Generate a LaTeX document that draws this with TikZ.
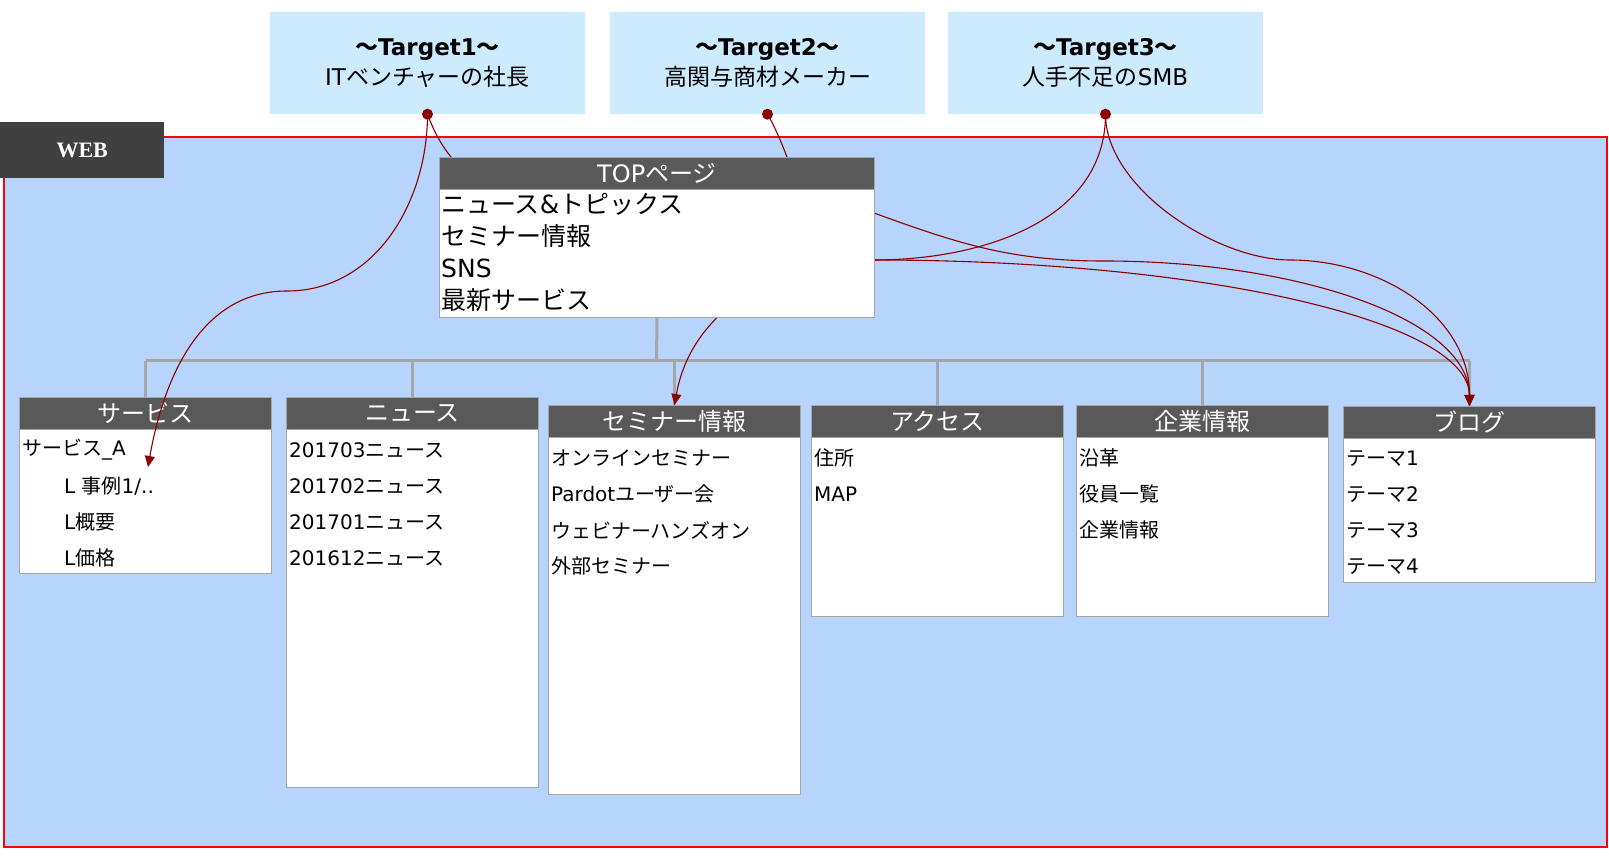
\documentclass[tikz,border=0pt]{standalone}
\usepackage{fontspec}
\setmainfont{DejaVu Sans}
\newfontfamily\jpfont{Noto Sans CJK JP}
\newfontfamily\webfont{Liberation Serif}
\usetikzlibrary{arrows.meta,positioning}

% Japanese characters switch to the CJK font
\newXeTeXintercharclass\jpclass
\count255="3000
\loop
  \XeTeXcharclass\count255=\jpclass
  \advance\count255 by 1
\ifnum\count255<"A000 \repeat
\count255="FF00
\loop
  \XeTeXcharclass\count255=\jpclass
  \advance\count255 by 1
\ifnum\count255<"FFF0 \repeat
\XeTeXinterchartoks 0 \jpclass = {\begingroup\jpfont}
\XeTeXinterchartoks 4095 \jpclass = {\begingroup\jpfont}
\XeTeXinterchartoks \jpclass 0 = {\endgroup}
\XeTeXinterchartoks \jpclass 4095 = {\endgroup}
\XeTeXinterchartokenstate=1

\definecolor{webblue}{RGB}{183,212,252}
\definecolor{targetblue}{RGB}{204,235,255}
\definecolor{headgray}{RGB}{89,89,89}
\definecolor{labelgray}{RGB}{64,64,64}
\definecolor{treegray}{RGB}{166,166,166}
\definecolor{linkred}{RGB}{139,0,0}

\pgfdeclarelayer{front}
\pgfsetlayers{main,front}

\tikzset{
  target/.style={fill=targetblue, minimum width=315pt, minimum height=102pt,
    inner sep=0pt, align=center, font=\fontsize{23}{30}\selectfont},
  pagehead/.style={fill=headgray, draw=treegray, line width=1pt, text=white,
    minimum width=252pt, minimum height=32pt, inner sep=0pt, anchor=north west,
    font=\fontsize{24}{24}\selectfont},
  pagebody/.style={fill=white, draw=treegray, line width=1pt,
    minimum width=252pt, inner sep=0pt, anchor=north west},
  pageitem/.style={anchor=west, inner sep=0pt, font=\fontsize{20}{20}\selectfont},
  tree/.style={treegray, line width=3pt},
  link/.style={linkred, line width=1.1pt},
  tip/.style={-{Triangle[length=11pt,width=10pt]}},
}

% page box: name, x, y, height, title
\newcommand{\sitepage}[5]{%
  \node[pagebody, minimum height=#4pt] (#1) at (#2,#3) {};
  \node[pagehead] (#1-head) at (#1.north west) {#5};
}

\begin{document}
\begin{tikzpicture}[x=1pt, y=1pt]

    \useasboundingbox (0,0) rectangle (1609,-858);

    % Frame
    \draw[red, line width=2.5pt, fill=webblue] (4,-137) rectangle (1607,-847);

    % Child pages
    \sitepage{serv}{19}{-397}{176}{サービス}
    \sitepage{news}{286}{-397}{390}{ニュース}
    \sitepage{semi}{548}{-405}{389}{セミナー情報}
    \sitepage{access}{811}{-405}{211}{アクセス}
    \sitepage{corp}{1076}{-405}{211}{企業情報}
    \sitepage{blog}{1343}{-406}{176}{ブログ}

    \node[pageitem] at ([xshift=3pt, yshift=-53pt]serv.north west) {サービス\_A};
    \foreach \txt [count=\i] in {{L 事例1/..}, L概要, L価格}
      \node[pageitem] at ([xshift=45pt, yshift={-(17+36*(\i+1))}]serv.north west) {\txt};
    \foreach \txt [count=\i] in {201703ニュース, 201702ニュース, 201701ニュース, 201612ニュース}
      \node[pageitem] at ([xshift=3pt, yshift={-(17+36*\i)}]news.north west) {\txt};
    \foreach \txt [count=\i] in {オンラインセミナー, Pardotユーザー会, ウェビナーハンズオン, 外部セミナー}
      \node[pageitem] at ([xshift=3pt, yshift={-(17+36*\i)}]semi.north west) {\txt};
    \foreach \txt [count=\i] in {住所, MAP}
      \node[pageitem] at ([xshift=3pt, yshift={-(17+36*\i)}]access.north west) {\txt};
    \foreach \txt [count=\i] in {沿革, 役員一覧, 企業情報}
      \node[pageitem] at ([xshift=3pt, yshift={-(17+36*\i)}]corp.north west) {\txt};
    \foreach \txt [count=\i] in {テーマ1, テーマ2, テーマ3, テーマ4}
      \node[pageitem] at ([xshift=3pt, yshift={-(17+36*\i)}]blog.north west) {\txt};

    % TOP page (above the links)
    \begin{pgfonlayer}{front}
      \node[pagebody, minimum width=435pt, minimum height=160pt] (top) at (439,-157) {};
      \node[pagehead, minimum width=435pt] (top-head) at (top.north west) {TOPページ};
      \foreach \txt [count=\i] in {ニュース\&トピックス, セミナー情報, SNS, 最新サービス}
        \node[pageitem, font=\fontsize{25}{25}\selectfont]
          at ([xshift=2pt, yshift={-(15+32*\i)}]top.north west) {\txt};
    \end{pgfonlayer}

    % Tree
    \coordinate (bus) at (656.5,-361);
    \draw[tree] (top.south) -- (bus);
    \draw[tree] (serv-head.north |- bus) -- (blog-head.north |- bus);
    \foreach \p in {serv,news,semi,access,corp,blog}
      \draw[tree] (\p-head.north |- bus) -- (\p-head.north);

    % Targets
    \node[target] (t1) at (427.5,-63) {\textbf{～Target1～}\\ITベンチャーの社長};
    \node[target] (t2) at (767.5,-63) {\textbf{～Target2～}\\高関与商材メーカー};
    \node[target] (t3) at (1105.5,-63) {\textbf{～Target3～}\\人手不足のSMB};

    % Links
    \draw[link, tip] (t1.south) to[out=-90,in=0] (287,-291)
      to[out=180,in=80] ([shift={(129pt,-70pt)}]serv.north west);
    \draw[link, tip] (t1.south) to[out=-70,in=160] (874,-213)
      to[out=-20,in=180] (1104,-261) .. controls (1300,-261) and (1469,-320) .. (blog-head.north);
    \draw[link, tip] (t2.south) to[out=-60,in=180] (874,-260)
      .. controls (1200,-260) and (1469,-320) .. (blog-head.north);
    \draw[link, tip] (t3.south) to[out=-90,in=0] (874,-260)
      to[out=180,in=80] (semi-head.north);
    \draw[link, tip] (t3.south) to[out=-90,in=180,looseness=0.8] (1290,-260)
      to[out=0,in=90] (blog-head.north);

    \foreach \t in {t1,t2,t3}
      \fill[linkred] (\t.south) circle (5.5pt);

    % Label
    \begin{pgfonlayer}{front}
      \node[fill=labelgray, text=white, minimum width=164pt, minimum height=56pt,
        inner sep=0pt, anchor=north west, font=\webfont\bfseries\fontsize{22}{22}\selectfont]
        (web) at (0,-122) {WEB};
    \end{pgfonlayer}
\end{tikzpicture}
\end{document}
